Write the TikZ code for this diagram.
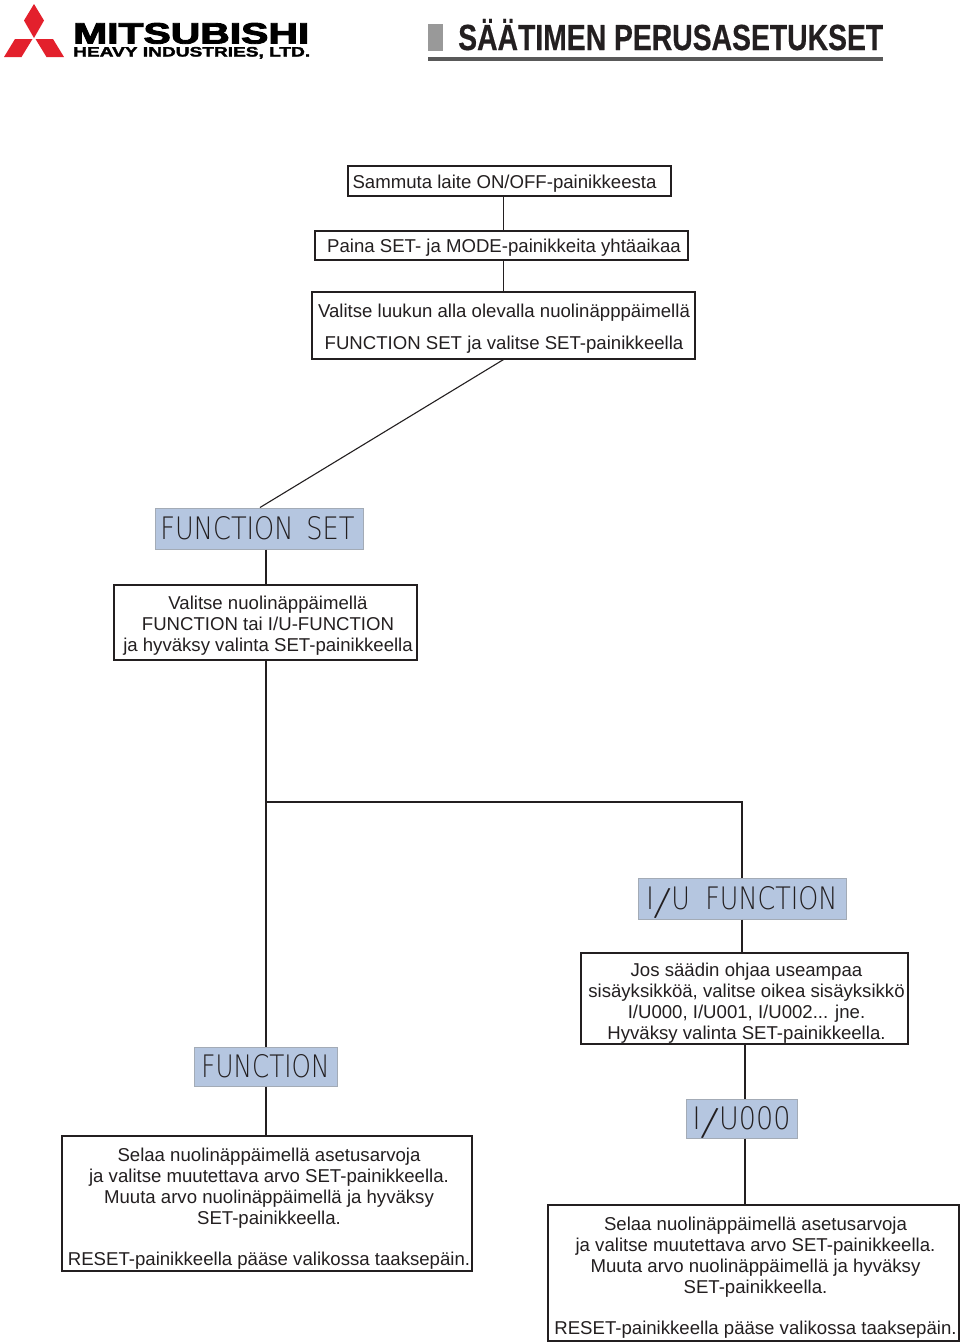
\documentclass[tikz,border=0pt]{standalone}
\usepackage{fontspec}
\setmainfont{Liberation Sans}
\newfontfamily\lcdfont{DejaVu Sans ExtraLight}
\newfontfamily\logofont[FakeBold=3]{Liberation Sans Bold}
\newfontfamily\logosubfont[FakeBold=2]{Liberation Sans Bold}
\newfontfamily\titlefont[FakeBold=.5]{Liberation Sans Bold}
\usetikzlibrary{positioning}
\definecolor{lcdblue}{HTML}{B5C6E0}
\definecolor{lcdedge}{HTML}{A3ABB6}
\definecolor{inkdark}{HTML}{231F20}
\definecolor{logored}{HTML}{E3202C}
\def\boxtext#1#2#3{\hspace*{#1}\raisebox{#2}[0pt][0pt]{\begin{tabular}{@{}c@{}}#3\end{tabular}}}
\def\bigslash{\raisebox{-1.5pt}[0pt][0pt]{\scalebox{1.45}[1.25]{\rotatebox{-10}{/}}}}
\tikzset{
  infobox/.style={draw=inkdark,fill=white,line width=1.1pt,inner sep=0pt,text=inkdark,
    font=\fontsize{18.6}{21}\selectfont},
  lcdbox/.style={draw=lcdedge,fill=lcdblue,line width=1pt,inner sep=0pt,text=inkdark},
  link/.style={draw=inkdark,line width=1.1pt},
  logotext/.style={anchor=base west,inner sep=0pt,text=black},
}
\begin{document}
\begin{tikzpicture}[x=1pt,y=-1pt]

  \useasboundingbox (0,0) rectangle (960,1342);
  \fill[white] (0,0) rectangle (960,1342);

  % \draw logo
  \fill[logored] (34,4) -- (44,20.5) -- (34,38) -- (24,20.5) -- cycle;
  \fill[logored] (32.5,39) -- (21.5,57) -- (4,57) -- (15,39) -- cycle;
  \fill[logored] (35.5,39) -- (46.5,57) -- (64,57) -- (53,39) -- cycle;
  \node[logotext] (logoname) at (73,43.5) {\resizebox{236pt}{20.5pt}{\logofont MITSUBISHI}};
  \node[logotext] (logosub) at (73,56.5) {\resizebox{237pt}{9.5pt}{\logosubfont HEAVY INDUSTRIES, LTD.}};

  % \draw title
  \fill[black!40] (428,24) rectangle (443,51);
  \node[anchor=base west,inner sep=0pt,text=inkdark] (title) at (458,50)
    {\resizebox{425pt}{31pt}{\titlefont SÄÄTIMEN PERUSASETUKSET}};
  \fill[black!65] (428,57) rectangle (883,61);

  % \draw top boxes
  \node[infobox,minimum width=323pt,minimum height=30pt] (off) at (509.5,181)
    {\boxtext{-10pt}{-8pt}{Sammuta laite ON/OFF-painikkeesta}};
  \node[infobox,minimum width=373pt,minimum height=29pt] (paina) at (501.5,245.5)
    {\boxtext{5pt}{-7pt}{Paina SET- ja MODE-painikkeita yhtäaikaa}};
  \node[infobox,minimum width=383pt,minimum height=67pt,
        font=\fontsize{18.6}{32}\selectfont] (luukku) at (503.5,325.5)
    {\boxtext{1pt}{-6pt}{Valitse luukun alla olevalla nuolinäpppäimellä\\
     FUNCTION SET ja valitse SET-painikkeella}};

  % \draw left branch
  \node[lcdbox,minimum width=208pt,minimum height=41pt] (fset) at (259,528.5)
    {\hspace*{-3pt}\resizebox{194pt}{23pt}{\lcdfont FUNCTION\hspace{.5em}SET}};
  \node[infobox,minimum width=303pt,minimum height=75pt] (choose) at (265.5,622.5)
    {\boxtext{5pt}{-8pt}{Valitse nuolinäppäimellä\\
     FUNCTION tai I/U-FUNCTION\\
     ja hyväksy valinta SET-painikkeella}};
  \node[lcdbox,minimum width=143pt,minimum height=39pt] (func) at (265.5,1066.5)
    {\resizebox{128pt}{23pt}{\lcdfont FUNCTION}};
  \node[infobox,minimum width=410pt,minimum height=135pt] (adjleft) at (267,1203.5)
    {\boxtext{4pt}{-10.5pt}{Selaa nuolinäppäimellä asetusarvoja\\
     ja valitse muutettava arvo SET-painikkeella.\\
     Muuta arvo nuolinäppäimellä ja hyväksy\\
     SET-painikkeella.\\[20pt]
     RESET-painikkeella pääse valikossa taaksepäin.}};

  % \draw right branch
  \node[lcdbox,minimum width=208pt,minimum height=41pt] (iufunc) at (742,898.5)
    {\resizebox{191pt}{23pt}{\lcdfont I\bigslash U\hspace{.6em}FUNCTION}};
  \node[infobox,minimum width=327pt,minimum height=91pt] (several) at (744.5,998.5)
    {\boxtext{4pt}{-10pt}{Jos säädin ohjaa useampaa\\
     sisäyksikköä, valitse oikea sisäyksikkö\\
     I/U000, I/U001, I/U002... jne.\\
     Hyväksy valinta SET-painikkeella.}};
  \node[lcdbox,minimum width=111pt,minimum height=39pt] (unit) at (741.5,1118.5)
    {\resizebox{98pt}{23pt}{\lcdfont I\bigslash U000}};
  \node[infobox,minimum width=411pt,minimum height=136pt] (adjright) at (753.5,1273)
    {\boxtext{4pt}{-10pt}{Selaa nuolinäppäimellä asetusarvoja\\
     ja valitse muutettava arvo SET-painikkeella.\\
     Muuta arvo nuolinäppäimellä ja hyväksy\\
     SET-painikkeella.\\[20pt]
     RESET-painikkeella pääse valikossa taaksepäin.}};

  % \draw connectors
  \coordinate (topstem) at (503.5,0);
  \coordinate (leftstem) at (266,0);
  \coordinate (unitstem) at (745,0);
  \coordinate (fork) at (266,802);
  \path[link] (off.south -| topstem) -- (paina.north -| topstem);
  \path[link] (paina.south -| topstem) -- (luukku.north -| topstem);
  \path[link] (luukku.south) -- ([xshift=1pt]fset.north);
  \path[link] (fset.south -| leftstem) -- (choose.north -| leftstem);
  \path[link] (choose.south -| leftstem) -- (func.north -| leftstem);
  \path[link] (func.south -| leftstem) -- (adjleft.north -| leftstem);
  \path[link] (fork) -| (iufunc.north);
  \path[link] (iufunc.south) -- (several.north -| iufunc);
  \path[link] (several.south -| unitstem) -- (unit.north -| unitstem);
  \path[link] (unit.south -| unitstem) -- (adjright.north -| unitstem);

\end{tikzpicture}
\end{document}
